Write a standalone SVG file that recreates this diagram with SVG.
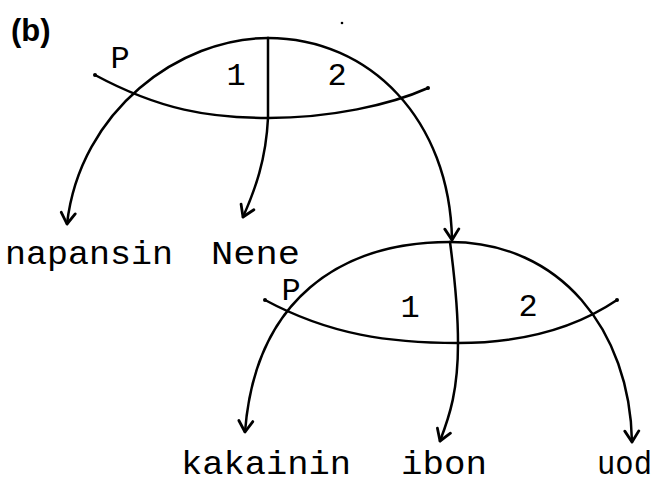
<svg xmlns="http://www.w3.org/2000/svg" width="652" height="481" viewBox="0 0 652 481">
<style>
.ln{fill:none;stroke:#000;stroke-width:2.5;stroke-linecap:round}
.tw{font-family:"Liberation Mono","DejaVu Sans Mono",monospace;fill:#000}
.lab{font-size:32px}
.word{font-size:33px}
.hd{font-family:"Liberation Sans",Arial,sans-serif;font-size:31px;font-weight:bold;fill:#000}
</style>
<defs>
<marker id="ah" viewBox="-13 -9 15 18" markerWidth="15" markerHeight="18" refX="0" refY="0" orient="auto" markerUnits="userSpaceOnUse">
<path d="M-11,-7 L0,0 L-11,7" fill="none" stroke="#000" stroke-width="2.8" stroke-linecap="round" stroke-linejoin="round"/>
</marker>
</defs>
<rect width="652" height="481" fill="#fff"/>
<text class="hd" x="11" y="41">(b)</text>
<circle cx="342" cy="23" r="1.3" fill="#000"/>
<g id="frame1">
<path class="ln" d="M95,75 C160,110 210,118 268,118 C330,118 390,105 428,88"/>
<circle cx="95" cy="75" r="2" fill="#000"/><circle cx="428" cy="88" r="2" fill="#000"/>
<text class="tw lab" x="120" y="68" text-anchor="middle">P</text>
<text class="tw lab" x="236" y="85" text-anchor="middle">1</text>
<text class="tw lab" x="337" y="85" text-anchor="middle">2</text>
</g>
<g id="frame2">
<path class="ln" d="M265,300 C330,335 390,343 458,343 C530,343 580,325 617,300"/>
<circle cx="265" cy="300" r="2" fill="#000"/><circle cx="617" cy="300" r="2" fill="#000"/>
<text class="tw lab" x="291" y="300" text-anchor="middle">P</text>
<text class="tw lab" x="410" y="317" text-anchor="middle">1</text>
<text class="tw lab" x="528" y="316" text-anchor="middle">2</text>
</g>
<g id="connectors">
<path class="ln" d="M268,38 C180,38 80,110 67,224" marker-end="url(#ah)"/>
<path class="ln" d="M268,38 L268,118 C266,160 255,190 243,217" marker-end="url(#ah)"/>
<path class="ln" d="M268,38 C370,38 450,120 452,240" marker-end="url(#ah)"/>
<path class="ln" d="M450,242 C340,242 255,300 245,432" marker-end="url(#ah)"/>
<path class="ln" d="M450,242 C455,280 458,310 458,343 C458,390 450,415 440,441" marker-end="url(#ah)"/>
<path class="ln" d="M450,242 C560,242 630,330 632,442" marker-end="url(#ah)"/>
</g>
<g id="napansin"><text class="tw word" x="5" y="264" textLength="168" lengthAdjust="spacingAndGlyphs">napansin</text></g>
<g id="Nene"><text class="tw word" x="211" y="264" textLength="89" lengthAdjust="spacingAndGlyphs">Nene</text></g>
<g id="kakainin"><text class="tw word" x="181" y="474" textLength="170" lengthAdjust="spacingAndGlyphs">kakainin</text></g>
<g id="ibon"><text class="tw word" x="401" y="474" textLength="86" lengthAdjust="spacingAndGlyphs">ibon</text></g>
<g id="uod"><text class="tw word" x="597" y="474" textLength="55" lengthAdjust="spacingAndGlyphs">uod</text></g>
</svg>
